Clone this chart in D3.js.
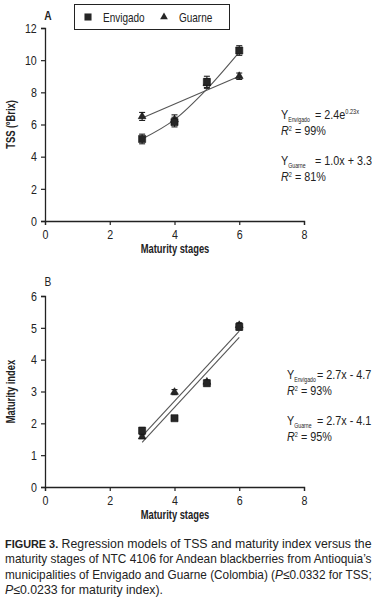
<!DOCTYPE html>
<html>
<head>
<meta charset="utf-8">
<script src="https://cdn.jsdelivr.net/npm/d3@7"></script>
<style>
  body { margin: 0; background: #fff; }
  svg text { font-family: "Liberation Sans", Arial, sans-serif; fill: #222; }
</style>
</head>
<body>
<div id="viz"></div>
<script>
// maturity stages (x)
const stages = [3, 4, 5, 6];

// panel A: TSS (ºBrix)
const tssEnvigado = [5.1, 6.15, 8.65, 10.6];
const tssEnvigadoErr = [0.3, 0.3, 0.35, 0.3];
const tssGuarne = [6.5, 6.3, 8.55, 9.0];
const tssGuarneErr = [0.25, 0.3, 0.3, 0.2];
const tssFitEnvigado = [5.1, 6.3, 8.2, 10.5];
const tssFitGuarneX = [3, 6];
const tssFitGuarne = [6.4, 9.0];

// panel B: maturity index
const miEnvigado = [1.77, 2.16, 3.26, 5.03];
const miEnvigadoErr = [0.1, 0.06, 0.08, 0.1];
const miGuarne = [1.58, 2.98, 3.3, 5.08];
const miGuarneErr = [0.06, 0.08, 0.06, 0.08];
const miFitX = [3, 6];
const miFitGuarne = [1.6, 4.9];
const miFitEnvigado = [1.4, 4.7];

const xTicks = [0, 2, 4, 6, 8];
const tssTicks = [0, 2, 4, 6, 8, 10, 12];
const miTicks = [0, 1, 2, 3, 4, 5, 6];

const W = 377, H = 605;
const svg = d3.select("#viz").append("svg")
  .attr("width", W).attr("height", H);

// text in a horizontally squeezed group (mimics the condensed face)
function ctext(parent, x, y, size, sx) {
  return parent.append("g")
    .attr("transform", `translate(${x},${y}) scale(${sx},1)`)
    .append("text")
    .style("font-size", size + "px");
}

function panel(opt) {
  const x = d3.scaleLinear().domain([0, 8]).range([45, 304]);
  const y = d3.scaleLinear().domain(opt.yDomain).range(opt.yRange);
  const g = svg.append("g");

  // axes
  const yAxis = g.append("g")
    .attr("transform", "translate(45,0)")
    .call(d3.axisLeft(y).tickValues(opt.yTicks).tickFormat(d3.format("d")).tickSize(4).tickPadding(6));
  const xAxis = g.append("g")
    .attr("transform", `translate(0,${opt.yRange[0]})`)
    .call(d3.axisBottom(x).tickValues(xTicks).tickFormat(d3.format("d")).tickSize(4).tickPadding(5));
  [xAxis, yAxis].forEach(a => {
    a.select(".domain").attr("stroke", "#222").attr("stroke-width", 1.3);
    a.selectAll(".tick line").attr("stroke", "#222").attr("stroke-width", 1.2);
    a.selectAll("text").style("font-size", "13px").attr("fill", "#222")
      .attr("transform", "scale(0.82,1)");
  });

  // axis titles
  ctext(g, 175, opt.yRange[0] + 32, 12, 0.78)
    .attr("text-anchor", "middle").style("font-weight", "bold")
    .text("Maturity stages");
  g.append("g")
    .attr("transform", `translate(15,${(opt.yRange[0] + opt.yRange[1]) / 2}) rotate(-90) scale(0.78,1)`)
    .append("text")
    .attr("text-anchor", "middle")
    .style("font-size", "12px").style("font-weight", "bold")
    .text(opt.yLabel);
  ctext(g, 48, opt.letterY, 12, 0.85)
    .attr("text-anchor", "middle")
    .style("font-weight", opt.letterBold ? "bold" : "normal")
    .text(opt.letter);

  // fitted lines
  const line = d3.line().x(d => x(d[0])).y(d => y(d[1]));
  opt.fits.forEach(f => {
    g.append("path")
      .datum(f.xs.map((v, i) => [v, f.ys[i]]))
      .attr("d", line.curve(f.curve || d3.curveLinear))
      .attr("fill", "none")
      .attr("stroke", "#555")
      .attr("stroke-width", 1.1);
  });

  // error bars + markers
  const drawSeries = (vals, errs, shape) => {
    const pts = stages.map((s, i) => ({ s, v: vals[i], e: errs[i] }));
    const eb = g.append("g").attr("stroke", "#222").attr("stroke-width", 1.1);
    pts.forEach(d => {
      eb.append("line").attr("x1", x(d.s)).attr("x2", x(d.s))
        .attr("y1", y(d.v - d.e)).attr("y2", y(d.v + d.e));
      [d.v - d.e, d.v + d.e].forEach(c => {
        eb.append("line").attr("x1", x(d.s) - 3).attr("x2", x(d.s) + 3)
          .attr("y1", y(c)).attr("y2", y(c));
      });
    });
    g.append("g").selectAll("path").data(pts).join("path")
      .attr("transform", d => `translate(${x(d.s)},${y(d.v)})`)
      .attr("d", shape)
      .attr("fill", "#262626")
      .attr("stroke", "#111")
      .attr("stroke-width", 0.6);
  };
  drawSeries(opt.guarne, opt.guarneErr, d3.symbol(d3.symbolTriangle, 26)());
  drawSeries(opt.envigado, opt.envigadoErr, d3.symbol(d3.symbolSquare, 50)());

  // equations
  const eqSx = 0.8;
  opt.eqs.forEach(q => {
    const t = ctext(g, q.x, q.y, 13.5, eqSx);
    t.append("tspan").text("Y");
    t.append("tspan").attr("dy", 3).style("font-size", "6.5px").text(q.sub);
    t.append("tspan").attr("dy", -3).attr("x", q.eqGap / eqSx).text("= " + q.rhs);
    if (q.sup) t.append("tspan").attr("dy", -5).style("font-size", "7px").text(q.sup);
    const r = ctext(g, q.x, q.y + 16, 13.5, eqSx);
    r.append("tspan").style("font-style", "italic").text("R");
    r.append("tspan").attr("dy", -4).style("font-size", "7px").text("2");
    r.append("tspan").attr("dy", 4).text(" = " + q.r2);
  });
}

panel({
  yDomain: [0, 12], yRange: [221, 28], yTicks: tssTicks,
  yLabel: "TSS (ºBrix)", letter: "A", letterBold: true, letterY: 20,
  envigado: tssEnvigado, envigadoErr: tssEnvigadoErr,
  guarne: tssGuarne, guarneErr: tssGuarneErr,
  fits: [
    { xs: stages, ys: tssFitEnvigado, curve: d3.curveMonotoneX },
    { xs: tssFitGuarneX, ys: tssFitGuarne }
  ],
  eqs: [
    { x: 281, y: 119, eqGap: 34, sub: "Envigado", rhs: "2.4e", sup: "0.23x", r2: "99%" },
    { x: 281, y: 165, eqGap: 34, sub: "Guarne", rhs: "1.0x + 3.3", r2: "81%" }
  ]
});

panel({
  yDomain: [0, 6], yRange: [487, 296], yTicks: miTicks,
  yLabel: "Maturity index", letter: "B", letterBold: false, letterY: 286,
  envigado: miEnvigado, envigadoErr: miEnvigadoErr,
  guarne: miGuarne, guarneErr: miGuarneErr,
  fits: [
    { xs: miFitX, ys: miFitGuarne },
    { xs: miFitX, ys: miFitEnvigado }
  ],
  eqs: [
    { x: 287, y: 379, eqGap: 30, sub: "Envigado", rhs: "2.7x - 4.7", r2: "93%" },
    { x: 287, y: 425, eqGap: 30, sub: "Guarne", rhs: "2.7x - 4.1", r2: "95%" }
  ]
});

// legend (panel A)
const legend = svg.append("g");
legend.append("rect").attr("x", 74.5).attr("y", 4.5).attr("width", 155).attr("height", 25)
  .attr("fill", "none").attr("stroke", "#222").attr("stroke-width", 1);
legend.append("path").attr("transform", "translate(88,17)")
  .attr("d", d3.symbol(d3.symbolSquare, 50)()).attr("fill", "#262626");
ctext(legend, 103, 21.5, 12.5, 0.8).text("Envigado");
legend.append("path").attr("transform", "translate(164,17)")
  .attr("d", d3.symbol(d3.symbolTriangle, 26)()).attr("fill", "#262626");
ctext(legend, 179, 21.5, 12.5, 0.8).text("Guarne");

// caption: each line squeezed to its width in the reference
const captionLines = [
  [["FIGURE 3.", "bold"], [" Regression models of TSS and maturity index versus the", ""]],
  [["maturity stages of NTC 4106 for Andean blackberries from Antioquia\u2019s", ""]],
  [["municipalities of Envigado and Guarne (Colombia) (", ""], ["P", "italic"], ["\u22640.0332 for TSS;", ""]],
  [["P", "italic"], ["\u22640.0233 for maturity index).", ""]]
];
const captionWidths = [367, 367, 367, 158];
captionLines.forEach((ln, i) => {
  const grp = svg.append("g");
  const t = grp.append("text").style("font-size", "13px");
  ln.forEach(([s, st]) => {
    const sp = t.append("tspan").text(s);
    if (st === "bold") sp.style("font-weight", "bold").style("font-size", "11.5px");
    if (st === "italic") sp.style("font-style", "italic");
  });
  const natural = t.node().getComputedTextLength();
  grp.attr("transform", `translate(5,${548 + i * 15.4}) scale(${captionWidths[i] / natural},1)`);
});
</script>
</body>
</html>
